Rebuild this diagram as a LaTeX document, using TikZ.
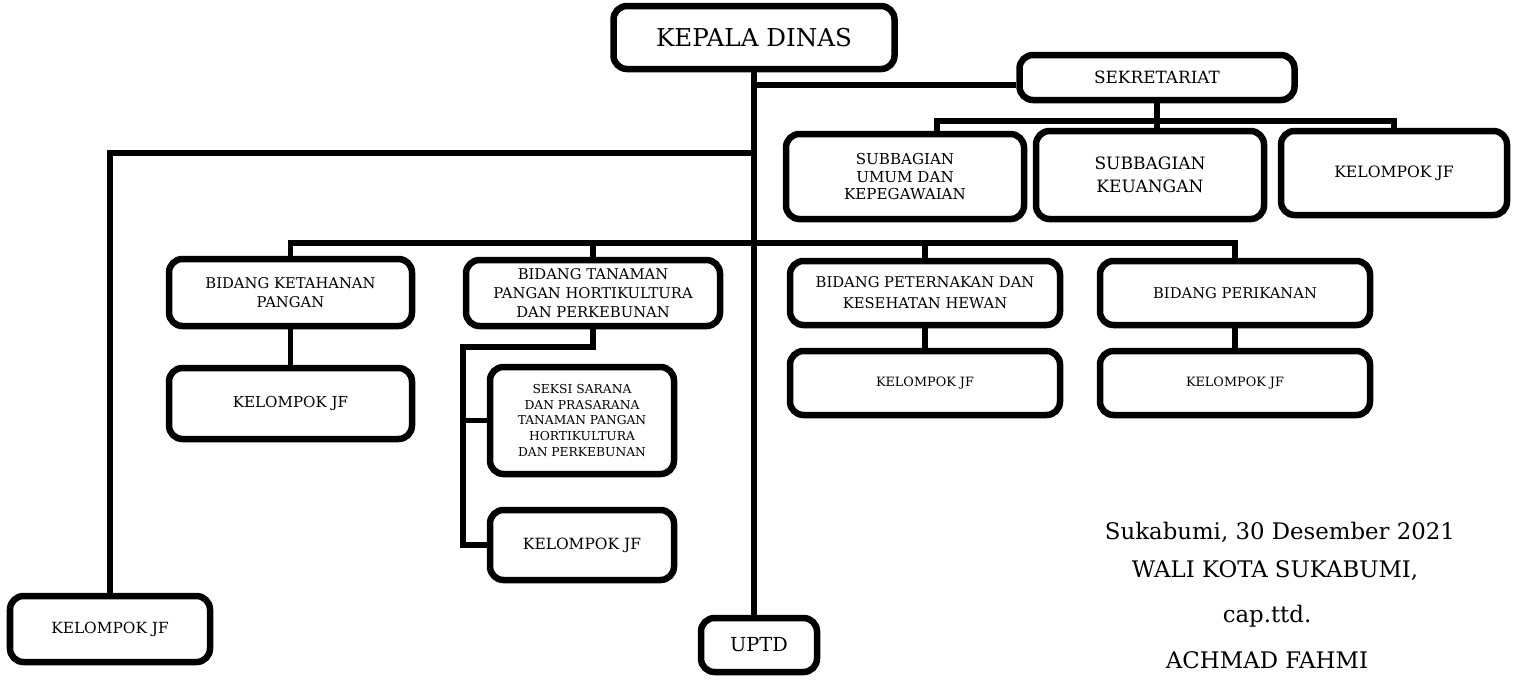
\documentclass[tikz,border=0pt]{standalone}
\usepackage{fontspec}
\setmainfont{DejaVu Serif}
\usetikzlibrary{positioning}
\tikzset{
  unit/.style 2 args={minimum width=#1*0.02cm, minimum height=#2*0.02cm},
  box/.style={draw, line width=3.7pt, rounded corners=0.27cm, align=center, inner sep=0pt},
  link/.style={line width=3.2pt},
  fs/.style 2 args={font=\fontsize{#1}{#2}\selectfont},
}
\begin{document}
\begin{tikzpicture}[x=0.02cm,y=-0.02cm]
\useasboundingbox (0,0) rectangle (1518,681);
% top level
\node[box,unit={281}{63},fs={14}{17}] (kepala) at (754,37.5) {KEPALA DINAS};
\node[box,unit={275}{45},fs={9.6}{12}] (sek) at (1157,77.5) {SEKRETARIAT};
% sekretariat
\node[box,unit={238}{85},fs={8.6}{10.2}] (sbumum) at (905,176.5) {SUBBAGIAN\\UMUM DAN\\KEPEGAWAIAN};
\node[box,unit={228}{88},fs={9.7}{13}] (sbkeu) at (1150,175) {SUBBAGIAN\\KEUANGAN};
\node[box,unit={226}{84},fs={8.9}{11}] (sekjf) at (1394,173) {KELOMPOK JF};
% bidang
\node[box,unit={243}{67},fs={8.4}{10.4}] (bkp) at (290.5,292.5) {BIDANG KETAHANAN\\PANGAN};
\node[box,unit={243}{71},fs={8.6}{11}] (bkpjf) at (290.5,403.5) {KELOMPOK JF};
\node[box,unit={254}{66},fs={8.4}{11}] (btp) at (593,293) {BIDANG TANAMAN\\PANGAN HORTIKULTURA\\DAN PERKEBUNAN};
\node[box,unit={184}{107},fs={7}{8.9}] (seksi) at (582,420.5) {SEKSI SARANA\\DAN PRASARANA\\TANAMAN PANGAN\\HORTIKULTURA\\DAN PERKEBUNAN};
\node[box,unit={184}{70},fs={8.8}{11}] (btpjf) at (582,545) {KELOMPOK JF};
\node[box,unit={270}{64},fs={8.4}{12}] (bpkh) at (925,293) {BIDANG PETERNAKAN DAN\\KESEHATAN HEWAN};
\node[box,unit={270}{64},fs={7.3}{9}] (bpkhjf) at (925,383) {KELOMPOK JF};
\node[box,unit={270}{64},fs={8.4}{11}] (bper) at (1235,293) {BIDANG PERIKANAN};
\node[box,unit={270}{64},fs={7.3}{9}] (bperjf) at (1235,383) {KELOMPOK JF};
% bottom
\node[box,unit={200}{66},fs={8.75}{11}] (kjf) at (110,629) {KELOMPOK JF};
\node[box,unit={116}{54},fs={11}{13}] (uptd) at (759,645) {UPTD};
% signature
\node[fs={13}{15}] (tgl) at (1280,532) {Sukabumi, 30 Desember 2021};
\node[fs={13}{15}] (wali) at (1275,571) {WALI KOTA SUKABUMI,};
\node[fs={13}{15}] (cap) at (1267,616) {cap.ttd.};
\node[fs={13}{15}] (nama) at (1267,660) {ACHMAD FAHMI};
% connectors
\coordinate (hsek) at (0,85);
\coordinate (hsub) at (0,121);
\coordinate (hleft) at (0,153);
\coordinate (hbid) at (0,243);
\coordinate (umum) at (937,0);
\coordinate (tbend) at (463,347);
\draw[link] (kepala.south) -- (kepala.south |- uptd.north);
\draw[link] (kepala.south |- hsek) -- (sek.west |- hsek);
\draw[link] (kepala.south |- hleft) -- (kjf.north |- hleft) -- (kjf.north);
%
\draw[link] (sek.south) -- (sek.south |- sbkeu.north);
\draw[link] (umum |- sbumum.north) -- (umum |- hsub) -- (sekjf.north |- hsub) -- (sekjf.north);
%
\draw[link] (bkp.north) -- (bkp.north |- hbid) -- (bper.north |- hbid) -- (bper.north);
\draw[link] (btp.north) -- (btp.north |- hbid);
\draw[link] (bpkh.north) -- (bpkh.north |- hbid);
\draw[link] (bkp.south) -- (bkpjf.north);
\draw[link] (bpkh.south) -- (bpkhjf.north);
\draw[link] (bper.south) -- (bperjf.north);
%
\draw[link] (btp.south) |- (tbend) -- (tbend |- btpjf.west) -- (btpjf.west);
\draw[link] (tbend |- seksi.west) -- (seksi.west);
\end{tikzpicture}
\end{document}
